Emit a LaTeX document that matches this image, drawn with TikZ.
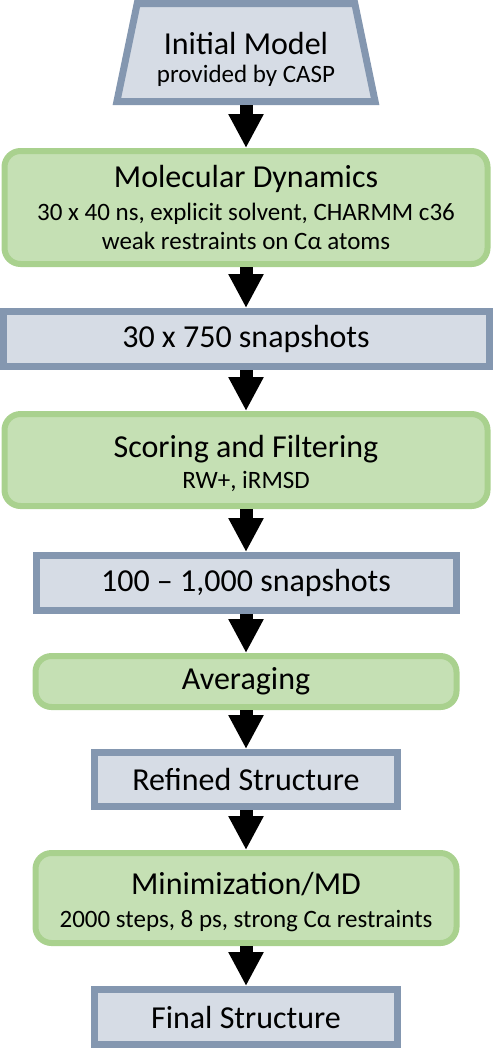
\documentclass[tikz,border=0pt]{standalone}
\usepackage{fontspec}
\setmainfont{Carlito}
\usetikzlibrary{shapes.geometric, arrows.meta, positioning}

\definecolor{edgeblue}{HTML}{8497B0}
\definecolor{fillblue}{HTML}{D6DCE5}
\definecolor{edgegreen}{HTML}{A9D18E}
\definecolor{fillgreen}{HTML}{C5E0B4}

\newcommand{\heading}[1]{{\fontsize{32}{38}\selectfont #1}}

\begin{document}
\begin{tikzpicture}[
    x=1pt, y=-1pt,
    node distance=41pt,
    data/.style={rectangle, draw=edgeblue, fill=fillblue, line width=7pt, align=center, minimum height=55pt, font=\fontsize{25}{29}\selectfont},
    process/.style={rectangle, draw=edgegreen, fill=fillgreen, line width=6pt, rounded corners=16pt, align=center, minimum width=483pt, font=\fontsize{25}{29}\selectfont},
    input/.style={trapezium, trapezium angle=77, trapezium stretches=true, draw=edgeblue, fill=fillblue, line width=7pt, align=center, minimum width=259pt, minimum height=98pt, font=\fontsize{25}{29}\selectfont},
    arrow/.style={-{Triangle[width=33pt, length=34pt]}, line width=13pt, black}
]
    \useasboundingbox (0,0) rectangle (493,1050);

    \node[input] (init) at (246,52.5) {\heading{\rule{0pt}{36pt}Initial Model}\\[-1pt] provided by CASP};
    \node[process, below=43pt of init, minimum height=113pt] (md) {\heading{Molecular Dynamics}\\[4pt] 30 x 40 ns, explicit solvent, CHARMM c36\\ weak restraints on Cα atoms};
    \node[data, below=of md, minimum width=486pt] (snapsall) {\heading{30 x 750 snapshots}};
    \node[process, below=of snapsall, minimum height=92pt] (scoring) {\heading{\rule{0pt}{30pt}Scoring and Filtering}\\[2pt] RW+, iRMSD};
    \node[data, below=43pt of scoring, minimum width=420pt] (snapsbest) {\heading{100 -- 1,000 snapshots}};
    \node[process, below=39pt of snapsbest, minimum width=421pt, minimum height=51pt] (avg) {\heading{Averaging}};
    \node[data, below=39pt of avg, minimum width=303pt, minimum height=54pt] (refined) {\heading{Refined Structure}};
    \node[process, below=40pt of refined, minimum width=421pt, minimum height=90pt] (minim) {\heading{\rule{0pt}{30pt}Minimization/MD}\\[4pt] 2000 steps, 8 ps, strong Cα restraints};
    \node[data, below=40pt of minim, minimum width=303pt] (final) {\heading{Final Structure}};

    \draw[arrow] (init.south) -- (md.north);
    \draw[arrow] (md.south) -- (snapsall.north);
    \draw[arrow] (snapsall.south) -- (scoring.north);
    \draw[arrow] (scoring.south) -- (snapsbest.north);
    \draw[arrow] (snapsbest.south) -- (avg.north);
    \draw[arrow] (avg.south) -- (refined.north);
    \draw[arrow] (refined.south) -- (minim.north);
    \draw[arrow] (minim.south) -- (final.north);

\end{tikzpicture}
\end{document}
